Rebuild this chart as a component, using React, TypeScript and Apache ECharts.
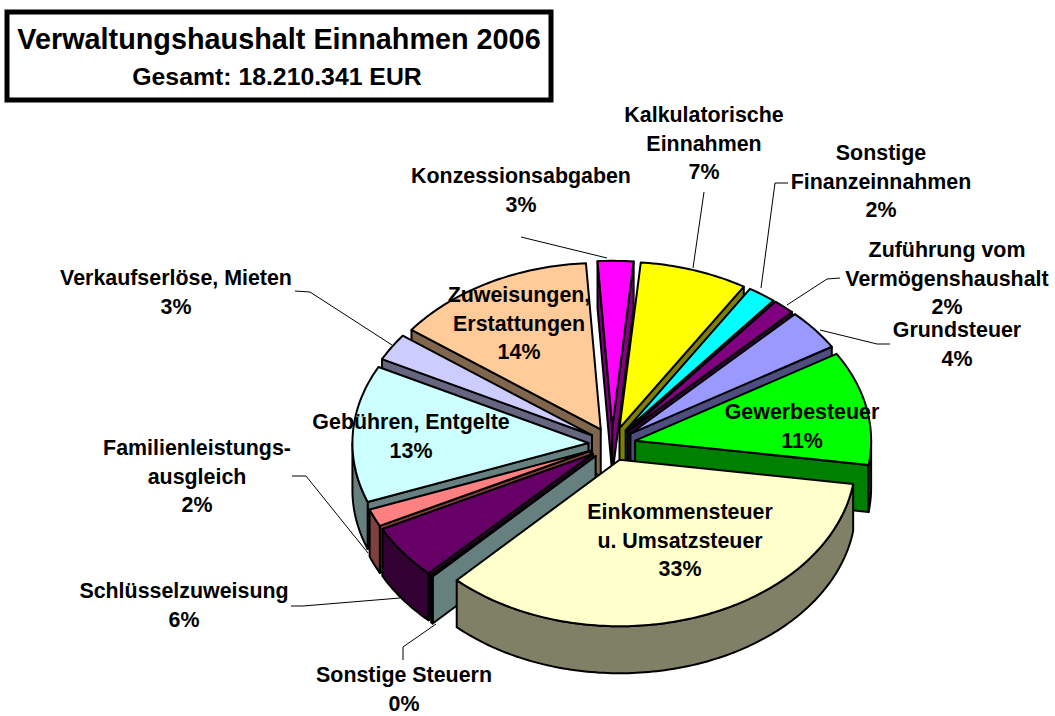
import React, { useEffect, useRef } from "react";
import * as echarts from "echarts";

const categories = [
  "Konzessionsabgaben", "Kalkulatorische Einnahmen", "Sonstige Finanzeinnahmen",
  "Zuführung vom Vermögenshaushalt", "Grundsteuer", "Gewerbesteuer",
  "Einkommensteuer u. Umsatzsteuer", "Sonstige Steuern", "Schlüsselzuweisung",
  "Familienleistungsausgleich", "Gebühren, Entgelte", "Verkaufserlöse, Mieten",
  "Zuweisungen, Erstattungen",
];
// shares as they appear on the tilted pie (percent of the circle)
const shares = [2.44, 7.39, 1.94, 1.5, 4.0, 11.06, 34.8, 0.14, 5.28, 1.7, 13.3, 2.64, 13.81];
const percentLabels = ["3%", "7%", "2%", "2%", "4%", "11%", "33%", "0%", "6%", "2%", "13%", "3%", "14%"];
const colors = [
  "#FF00FF", "#FFFF00", "#00FFFF", "#800080", "#9999FF", "#00FF00", "#FFFFCC",
  "#CCFFFF", "#660066", "#FF8080", "#CCFFFF", "#CCCCFF", "#FFCC99",
];

const START = -3.6;
const CX = 612, CY = 444, RX = 236, RY = 166.5, EXPLODE = 0.1, DEPTH = 47;
const rad = (d: number) => (d * Math.PI) / 180;

const darken = (hex: string) => {
  const n = parseInt(hex.slice(1), 16);
  const h = (v: number) => Math.round(v / 2).toString(16).padStart(2, "0");
  return "#" + h((n >> 16) & 255) + h((n >> 8) & 255) + h(n & 255);
};

let acc = 0;
const rows = shares.map((s, i) => {
  const row = [acc, s, i];
  acc += s;
  return row;
});
const midCos = (r: number[]) => Math.cos(rad(START + (r[0] + r[1] / 2) * 3.6));
const painterRows = [...rows].sort((a, b) => midCos(b) - midCos(a));

const arcPts = (pt: (a: number, z: number) => number[], a0: number, a1: number, z: number) => {
  const n = Math.max(2, Math.ceil(a1 - a0) + 1);
  const out: number[][] = [];
  for (let k = 0; k < n; k++) out.push(pt(a0 + ((a1 - a0) * k) / (n - 1), z));
  return out;
};

const renderSlice = (_p: any, api: any) => {
  const a0 = START + api.value(0) * 3.6;
  const a1 = a0 + api.value(1) * 3.6;
  const mid = (a0 + a1) / 2;
  const color = colors[api.value(2)];
  const wall = darken(color);
  const ox = CX + EXPLODE * RX * Math.sin(rad(mid));
  const oy = CY - EXPLODE * RY * Math.cos(rad(mid));
  const pt = (a: number, z: number) => [ox + RX * Math.sin(rad(a)), oy - RY * Math.cos(rad(a)) + z];
  const line = { stroke: "#000", lineWidth: 2, lineJoin: "round" };
  const poly = (points: number[][], fill: string) => ({
    type: "polygon",
    shape: { points },
    style: { fill, ...line },
  });
  const children: any[] = [];
  if (Math.sin(rad(a0)) < 0) children.push(poly([[ox, oy], pt(a0, 0), pt(a0, DEPTH), [ox, oy + DEPTH]], wall));
  if (Math.sin(rad(a1)) > 0) children.push(poly([[ox, oy], pt(a1, 0), pt(a1, DEPTH), [ox, oy + DEPTH]], wall));
  const lo = Math.max(a0, 90), hi = Math.min(a1, 270);
  if (hi > lo) {
    children.push(poly([...arcPts(pt, lo, hi, 0), ...arcPts(pt, lo, hi, DEPTH).reverse()], wall));
  }
  children.push(poly([[ox, oy], ...arcPts(pt, a0, a1, 0)], color));
  return { type: "group", children };
};

const FONT = "Liberation Sans, Arial, sans-serif";
const LINE = 28.6;
// label text, centre x, y of first line
const labelBlocks: [string[], number, number][] = [
  [["Konzessionsabgaben", percentLabels[0]], 521, 176],
  [["Kalkulatorische", "Einnahmen", percentLabels[1]], 704, 115],
  [["Sonstige", "Finanzeinnahmen", percentLabels[2]], 881, 153],
  [["Zuführung vom", "Vermögenshaushalt", percentLabels[3]], 947, 250],
  [["Grundsteuer", percentLabels[4]], 957, 330],
  [["Gewerbesteuer", percentLabels[5]], 802, 412],
  [["Einkommensteuer", "u. Umsatzsteuer", percentLabels[6]], 680, 512],
  [["Sonstige Steuern", percentLabels[7]], 404, 675],
  [["Schlüsselzuweisung", percentLabels[8]], 184, 591],
  [["Familienleistungs-", "ausgleich", percentLabels[9]], 197, 448],
  [["Gebühren, Entgelte", percentLabels[10]], 411, 422],
  [["Verkaufserlöse, Mieten", percentLabels[11]], 176, 278],
  [["Zuweisungen,", "Erstattungen", percentLabels[12]], 519, 295],
];
const leaders: number[][][] = [
  [[521, 237], [607, 258]],
  [[704, 192], [693, 268]],
  [[788, 183], [775, 183], [761, 288]],
  [[840, 278], [827, 279], [787, 305]],
  [[820, 330], [877, 344], [890, 344]],
  [[295, 291], [310, 292], [392, 345]],
  [[292, 476], [306, 476], [368, 553]],
  [[291, 606], [303, 606], [400, 598]],
  [[403, 660], [403, 647], [436, 624]],
];

export default function App() {
  const ref = useRef<HTMLDivElement>(null);
  useEffect(() => {
    document.body.style.margin = "0";
    const chart = echarts.init(ref.current!, null, { renderer: "svg" });
    chart.setOption({
      animation: false,
      backgroundColor: "#fff",
      series: [
        {
          type: "custom",
          coordinateSystem: "none",
          name: categories.join(", "),
          silent: true,
          renderItem: renderSlice,
          data: painterRows,
        },
      ],
      graphic: [
        ...leaders.map((points) => ({
          type: "polyline",
          z: 90,
          shape: { points },
          style: { stroke: "#000", lineWidth: 1, fill: "none" },
        })),
        {
          type: "rect",
          z: 90,
          shape: { x: 7, y: 12, width: 544, height: 88 },
          style: { fill: "#fff", stroke: "#000", lineWidth: 5 },
        },
        {
          type: "text",
          z: 100,
          x: 279,
          y: 39,
          style: { text: "Verwaltungshaushalt Einnahmen 2006", fill: "#000", font: `bold 28.8px ${FONT}`, textAlign: "center", textVerticalAlign: "middle" },
        },
        {
          type: "text",
          z: 100,
          x: 277,
          y: 76,
          style: { text: "Gesamt: 18.210.341 EUR", fill: "#000", font: `bold 24.8px ${FONT}`, textAlign: "center", textVerticalAlign: "middle" },
        },
        ...labelBlocks.flatMap(([lines, x, y]) =>
          lines.map((text, k) => ({
            type: "text",
            z: 100,
            x,
            y: y + k * LINE,
            style: { text, fill: "#000", font: `bold 21.4px ${FONT}`, textAlign: "center", textVerticalAlign: "middle" },
          }))
        ),
      ],
    });
    return () => chart.dispose();
  }, []);
  return <div ref={ref} style={{ width: 1055, height: 716 }} />;
}
